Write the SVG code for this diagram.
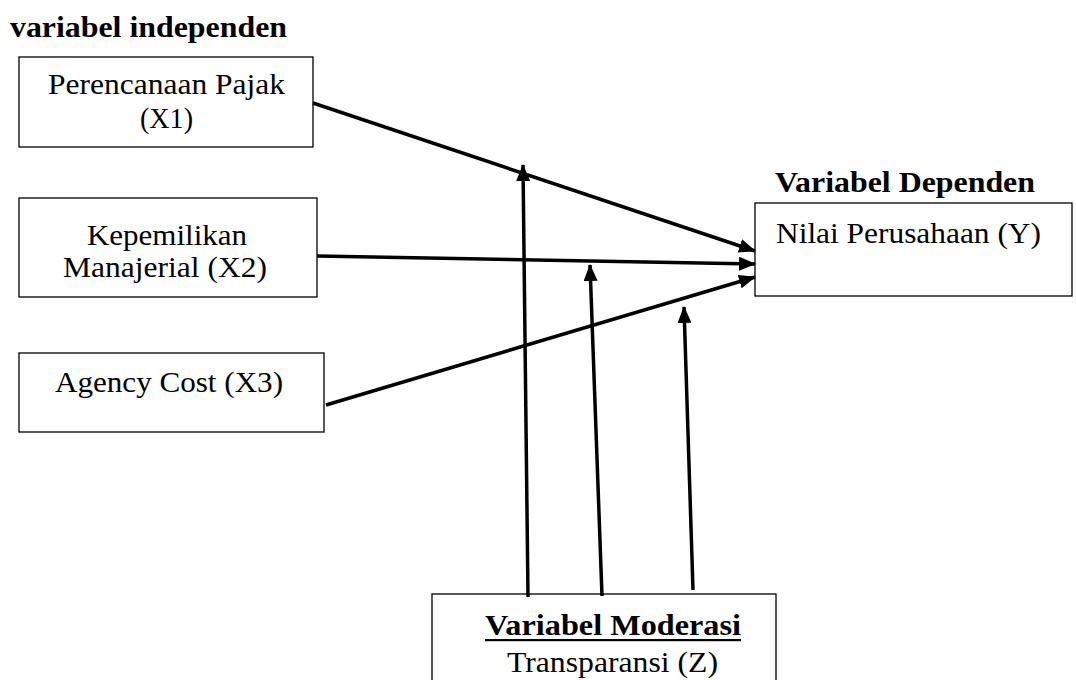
<svg xmlns="http://www.w3.org/2000/svg" width="1076" height="680" viewBox="0 0 1076 680" font-family="'Liberation Serif', 'Times New Roman', Tinos, serif">
<style>
text{font-family:'Liberation Serif','Times New Roman',Tinos,serif;font-size:29px;fill:#000}
.b{font-weight:bold}
.box{fill:#fff;stroke:#000;stroke-width:1.3}
.ln{stroke:#000;stroke-width:3.5;fill:none;marker-end:url(#ah)}
</style>
<defs>
<marker id="ah" markerUnits="userSpaceOnUse" markerWidth="18" markerHeight="14" refX="16" refY="7" orient="auto">
<path d="M0,0 L17,7 L0,14 z" fill="#000"/>
</marker>
</defs>
<rect width="1076" height="680" fill="#fff"/>
<text class="b" x="10" y="37" textLength="277" lengthAdjust="spacingAndGlyphs">variabel independen</text>
<g id="x1">
<rect class="box" x="19" y="57" width="294" height="90"/>
<text x="166.5" y="94" text-anchor="middle" textLength="237" lengthAdjust="spacingAndGlyphs">Perencanaan Pajak</text>
<text x="166.5" y="128" text-anchor="middle" textLength="53" lengthAdjust="spacingAndGlyphs">(X1)</text>
</g>
<g id="x2">
<rect class="box" x="19" y="198" width="298" height="99"/>
<text x="167" y="245" text-anchor="middle" textLength="160" lengthAdjust="spacingAndGlyphs">Kepemilikan</text>
<text x="165" y="277" text-anchor="middle" textLength="204" lengthAdjust="spacingAndGlyphs">Manajerial (X2)</text>
</g>
<g id="x3">
<rect class="box" x="19" y="353" width="305" height="79"/>
<text x="169" y="392" text-anchor="middle" textLength="228" lengthAdjust="spacingAndGlyphs">Agency Cost (X3)</text>
</g>
<g id="y">
<text class="b" x="775" y="192" textLength="260" lengthAdjust="spacingAndGlyphs">Variabel Dependen</text>
<rect class="box" x="755" y="203" width="317" height="93"/>
<text x="776" y="243" textLength="265" lengthAdjust="spacingAndGlyphs">Nilai Perusahaan (Y)</text>
</g>
<g id="z">
<rect class="box" x="432" y="594" width="344" height="100"/>
<text class="b" x="485" y="635" textLength="256" lengthAdjust="spacingAndGlyphs">Variabel Moderasi</text>
<rect x="485" y="639" width="256" height="2.2" fill="#000"/>
<text x="507" y="672" textLength="211" lengthAdjust="spacingAndGlyphs">Transparansi (Z)</text>
</g>
<g id="connectors">
<line class="ln" x1="313" y1="103" x2="755" y2="251"/>
<line class="ln" x1="317" y1="256" x2="755" y2="264"/>
<line class="ln" x1="326" y1="405" x2="755" y2="277"/>
<line class="ln" x1="528" y1="597" x2="523" y2="165"/>
<line class="ln" x1="602" y1="596" x2="590" y2="265"/>
<line class="ln" x1="693" y1="590" x2="684" y2="307"/>
</g>
</svg>
